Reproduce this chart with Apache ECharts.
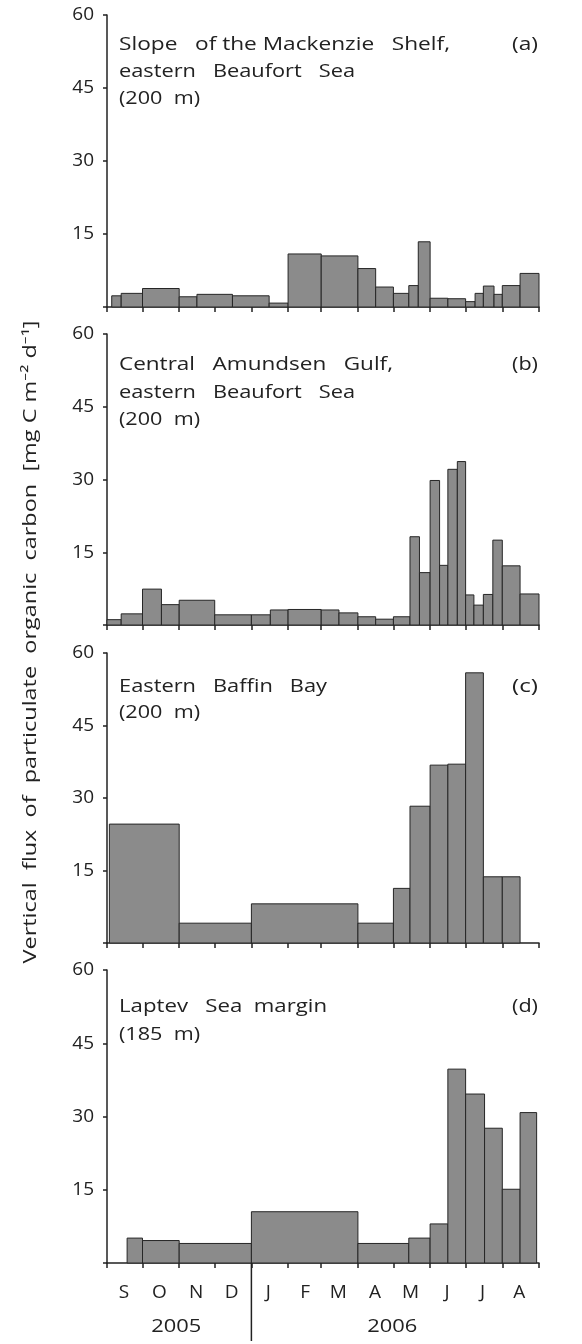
<!DOCTYPE html>
<html><head><meta charset="utf-8">
<script src="https://cdn.jsdelivr.net/npm/echarts@6/dist/echarts.min.js"></script>
<style>html,body{margin:0;padding:0;background:#fff}#c{width:582px;height:1344px}</style>
</head><body><div id="c"></div>
<script>
// ---------- data ----------
const monthLetters = ['J','F','M','A','M','J','J','A','S','O','N','D'];
const axisStart = '2005-09-01';
const axisEnd = '2006-09-01';
const yTickValues = [0, 15, 30, 45, 60];
const panelTags = ['(a)', '(b)', '(c)', '(d)'];
const panelTitleLines = [
  ['Slope   of the Mackenzie   Shelf,', 'eastern   Beaufort   Sea', '(200  m)'],
  ['Central   Amundsen   Gulf,', 'eastern   Beaufort   Sea', '(200  m)'],
  ['Eastern   Baffin   Bay', '(200  m)'],
  ['Laptev   Sea  margin', '(185  m)']
];
const yearLabels = ['2005', '2006'];
const yearBounds = ['2005-09-01', '2006-01-01', '2006-09-01'];
const yAxisTitle = 'Vertical  flux  of  particulate  organic  carbon  [mg C m\u207B\u00B2 d\u207B\u00B9]';

// (a) Slope of the Mackenzie Shelf
const edgesA = ['2005-09-05','2005-09-13','2005-10-01','2005-11-01','2005-11-16','2005-12-16','2006-01-16','2006-02-01',
  '2006-03-01','2006-04-01','2006-04-16','2006-05-01','2006-05-14','2006-05-22','2006-06-01','2006-06-16','2006-07-01',
  '2006-07-09','2006-07-16','2006-07-25','2006-08-01','2006-08-16','2006-09-01'];
const fluxA = [2.3, 2.8, 3.8, 2.1, 2.6, 2.3, 0.8, 10.9, 10.5, 7.9, 4.1, 2.8, 4.4, 13.4, 1.8, 1.7, 1.1, 2.8, 4.3, 2.6, 4.4, 6.9];

// (b) Central Amundsen Gulf
const edgesB = ['2005-09-01','2005-09-13','2005-10-01','2005-10-17','2005-11-01','2005-12-01','2006-01-01','2006-01-17',
  '2006-02-01','2006-03-01','2006-03-16','2006-04-01','2006-04-16','2006-05-01','2006-05-15','2006-05-23','2006-06-01',
  '2006-06-09','2006-06-16','2006-06-24','2006-07-01','2006-07-08','2006-07-16','2006-07-24','2006-08-01','2006-08-16','2006-09-01'];
const fluxB = [1.1, 2.3, 7.4, 4.2, 5.1, 2.1, 2.1, 3.1, 3.2, 3.1, 2.5, 1.7, 1.2, 1.7, 18.2, 10.8, 29.8, 12.3, 32.1, 33.7,
  6.2, 4.1, 6.3, 17.5, 12.2, 6.4];

// (c) Eastern Baffin Bay
const edgesC = ['2005-09-03','2005-11-01','2006-01-01','2006-04-01','2006-05-01','2006-05-15','2006-06-01','2006-06-16',
  '2006-07-01','2006-07-16','2006-08-01','2006-08-16'];
const fluxC = [24.6, 4.1, 8.1, 4.1, 11.3, 28.3, 36.8, 37.0, 55.9, 13.7, 13.7];

// (d) Laptev Sea margin
const edgesD = ['2005-09-18','2005-10-01','2005-11-01','2006-01-01','2006-04-01','2006-05-14','2006-06-01','2006-06-16',
  '2006-07-01','2006-07-17','2006-08-01','2006-08-16','2006-08-30'];
const fluxD = [5.1, 4.6, 4.0, 10.5, 4.0, 5.1, 8.0, 39.7, 34.6, 27.6, 15.1, 30.8];

// ---------- layout ----------
const gridTops = [15, 334, 653, 970];
const gridHeights = [292, 291, 290, 293];
const titleFirstLineY = [45, 365, 687, 1007];
const titleLineGap = [27, 27.5, 26, 28];
const titleLineWidths = [[331, 236, 81], [274, 236, 81], [208, 81], [208, 81]];
const tagWidth = 26, yearWidth = 50, yTitleLength = 643;
const FONT = '"Open Sans", "Noto Sans", sans-serif';
const TEXT = '#222';
const TXT_SIZE = 18;

const panels = [[edgesA, fluxA], [edgesB, fluxB], [edgesC, fluxC], [edgesD, fluxD]];

function toRows(edges, flux) {
  return flux.map((v, i) => [edges[i], edges[i + 1], v]);
}

function renderItem(params, api) {
  const p0 = api.coord([api.value(0), 0]);
  const p1 = api.coord([api.value(1), api.value(2)]);
  return {
    type: 'rect',
    shape: { x: p0[0], y: p1[1], width: p1[0] - p0[0], height: p0[1] - p1[1] },
    style: { fill: '#8b8b8b', stroke: '#262626', lineWidth: 1 }
  };
}

const grids = [], xAxes = [], yAxes = [], series = [];
panels.forEach((p, i) => {
  grids.push({ left: 107, right: 43, top: gridTops[i], height: gridHeights[i] });
  const isLast = i === panels.length - 1;
  xAxes.push({
    type: 'time', gridIndex: i, min: axisStart, max: axisEnd,
    splitNumber: 12, minInterval: 28 * 86400000, maxInterval: 31 * 86400000,
    axisLine: { lineStyle: { color: '#222', width: 1.5 } },
    axisTick: { show: true, length: 5, lineStyle: { color: '#222', width: 1.5 } },
    splitLine: { show: false }, minorTick: { show: false },
    axisLabel: {
      show: isLast, margin: 20, fontSize: 19, color: TEXT, fontFamily: FONT,
      align: 'center', padding: [0, 0, 0, 34], hideOverlap: false,
      showMinLabel: true, showMaxLabel: false,
      formatter: function (val) {
        const d = new Date(val);
        if (d.getTime() >= new Date(axisEnd + 'T00:00:00').getTime()) return '';
        return monthLetters[d.getMonth()];
      }
    }
  });
  yAxes.push({
    type: 'value', gridIndex: i, min: yTickValues[0], max: yTickValues[yTickValues.length - 1],
    interval: yTickValues[1] - yTickValues[0],
    axisLine: { show: true, lineStyle: { color: '#222', width: 1.5 } },
    axisTick: { show: true, length: 4, lineStyle: { color: '#222', width: 1.5 } },
    splitLine: { show: false },
    axisLabel: {
      margin: 13, fontSize: 19, color: TEXT, fontFamily: FONT,
      formatter: v => (v === 0 ? '' : String(v))
    }
  });
  series.push({
    type: 'custom', xAxisIndex: i, yAxisIndex: i,
    renderItem: renderItem, encode: { x: [0, 1], y: 2 },
    data: toRows(p[0], p[1]), silent: true
  });
});

const chart = echarts.init(document.getElementById('c'), null, { renderer: 'canvas' });
chart.setOption({
  animation: false,
  backgroundColor: '#ffffff',
  grid: grids,
  xAxis: xAxes,
  yAxis: yAxes,
  series: series
});

// text measured, then stretched to the reference's horizontal extent
const mctx = document.createElement('canvas').getContext('2d');
function naturalWidth(text) {
  mctx.font = TXT_SIZE + 'px ' + FONT;
  return mctx.measureText(text).width;
}
function fitText(text, x, y, align, targetW, extra) {
  return Object.assign({
    type: 'text', x: x, y: y, scaleX: targetW / naturalWidth(text), silent: true,
    style: { text: text, fontSize: TXT_SIZE, fill: TEXT, fontFamily: FONT, align: align, verticalAlign: 'middle' }
  }, extra || {});
}

const graphics = [];
panels.forEach((p, i) => {
  const leftX = chart.convertToPixel({ xAxisIndex: i }, axisStart);
  const rightX = chart.convertToPixel({ xAxisIndex: i }, axisEnd);
  panelTitleLines[i].forEach((line, k) => {
    graphics.push(fitText(line, leftX + 12, titleFirstLineY[i] + k * titleLineGap[i], 'left', titleLineWidths[i][k]));
  });
  graphics.push(fitText(panelTags[i], rightX - 1, titleFirstLineY[i], 'right', tagWidth));
});

// annotations placed through the last panel's axes
const last = panels.length - 1;
const baseY = chart.convertToPixel({ yAxisIndex: last }, 0);
yearLabels.forEach((lab, k) => {
  const x0 = chart.convertToPixel({ xAxisIndex: last }, yearBounds[k]);
  const x1 = chart.convertToPixel({ xAxisIndex: last }, yearBounds[k + 1]);
  graphics.push(fitText(lab, (x0 + x1) / 2 - 3, baseY + 64, 'center', yearWidth));
});
const xDiv = chart.convertToPixel({ xAxisIndex: last }, yearBounds[1]);
graphics.push({
  type: 'line', silent: true, shape: { x1: xDiv, y1: baseY, x2: xDiv, y2: baseY + 78 },
  style: { stroke: '#222', lineWidth: 1.5 }
});
graphics.push(fitText(yAxisTitle, 31, 642, 'center', yTitleLength, { rotation: Math.PI / 2 }));
chart.setOption({ graphic: graphics });
</script>
</body></html>
